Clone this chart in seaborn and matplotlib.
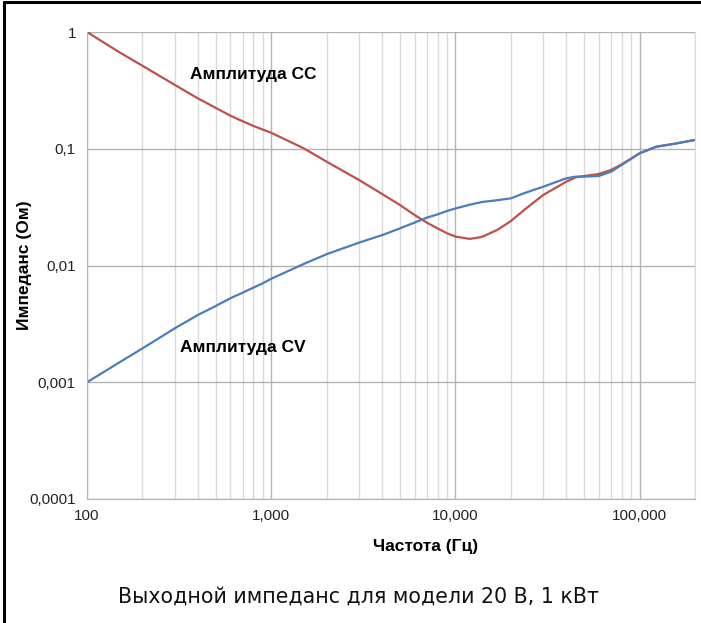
import numpy as np
import pandas as pd
import seaborn as sns
import matplotlib.pyplot as plt
from matplotlib.ticker import FixedLocator, LogLocator, NullFormatter
from matplotlib.lines import Line2D

# Frequency points (Hz)
freq = [100, 150, 200, 300, 400, 500, 600, 700, 800, 900, 1000, 1500, 2000,
        3000, 4000, 5000, 6000, 7000, 8000, 9000, 10000, 12000, 14000, 17000,
        20000, 24000, 30000, 40000, 45000, 50000, 60000, 70000, 80000, 90000,
        100000, 123000, 158000, 200000]

# Output impedance magnitude in constant-current mode (Ohm)
cc_amp = [1.0, 0.67, 0.514, 0.352, 0.27, 0.224, 0.192, 0.172, 0.157, 0.146,
          0.137, 0.101, 0.0775, 0.054, 0.041, 0.033, 0.0271, 0.0233, 0.0208,
          0.0189, 0.0177, 0.0169, 0.0176, 0.0203, 0.024, 0.0305, 0.0402,
          0.0522, 0.0569, 0.0584, 0.0608, 0.0658, 0.0736, 0.0822, 0.0914,
          0.104, 0.111, 0.119]

# Output impedance magnitude in constant-voltage mode (Ohm)
cv_amp = [0.001, 0.00148, 0.00195, 0.0029, 0.00377, 0.0045, 0.00524, 0.00585,
          0.00646, 0.00704, 0.0077, 0.0103, 0.0125, 0.0157, 0.0182, 0.0208,
          0.0233, 0.0257, 0.0274, 0.0293, 0.0308, 0.0332, 0.035, 0.0363,
          0.0376, 0.042, 0.0473, 0.0558, 0.0577, 0.0577, 0.0584, 0.0636,
          0.0727, 0.0822, 0.0914, 0.104, 0.111, 0.119]

series_names = ["Амплитуда CC", "Амплитуда CV"]
y_ticks = [0.0001, 0.001, 0.01, 0.1, 1]
y_tick_labels = ["0,0001", "0,001", "0,01", "0,1", "1"]
x_ticks = [100, 1000, 10000, 100000]
x_tick_labels = ["100", "1,000", "10,000", "100,000"]

df = pd.DataFrame({
    "freq": freq * 2,
    "amp": cc_amp + cv_amp,
    "series": [series_names[0]] * len(freq) + [series_names[1]] * len(freq),
})

sns.set_style("white")
plt.rcParams["font.family"] = ["Liberation Sans", "DejaVu Sans"]

W, H = 701, 623
fig = plt.figure(figsize=(W / 100, H / 100), dpi=100)
ax = fig.add_axes([87 / W, 1 - 499 / H, (695 - 87) / W, (499 - 32) / H])

ax.set_xscale("log")
ax.set_yscale("log")
ax.set_xlim(100, 200000)
ax.set_ylim(0.0001, 1)

# grid: light minor lines, darker decade lines
ax.xaxis.set_minor_locator(LogLocator(base=10, subs=np.arange(2, 10)))
ax.xaxis.set_minor_formatter(NullFormatter())
ax.yaxis.set_minor_locator(plt.NullLocator())
ax.grid(True, which="minor", axis="x", color="#d9d9d9", linewidth=1.0)
ax.grid(True, which="major", axis="both", color="#b3b3b3", linewidth=1.0)
ax.set_axisbelow(True)

sns.lineplot(data=df, x="freq", y="amp", hue="series",
             palette={series_names[0]: "#c0504d", series_names[1]: "#4a7ebb"},
             linewidth=1.6, ax=ax, legend=False, sort=False)

ax.xaxis.set_major_locator(FixedLocator(x_ticks))
ax.set_xticklabels(x_tick_labels)
ax.yaxis.set_major_locator(FixedLocator(y_ticks))
ax.set_yticklabels(y_tick_labels)
ax.tick_params(axis="both", which="both", length=0, labelsize=11,
               labelcolor="#222222")
ax.tick_params(axis="x", pad=7)
ax.tick_params(axis="y", pad=8)

ax.spines["top"].set_visible(False)
ax.spines["left"].set_color("#b3b3b3")
ax.spines["bottom"].set_color("#b3b3b3")
ax.spines["right"].set_color("#d9d9d9")

ax.set_xlabel("Частота (Гц)", fontsize=12.5, fontweight="bold", va="center",
              color="black")
ax.set_ylabel("Импеданс (Ом)", fontsize=12.5, fontweight="bold", va="center",
              color="black")
ax.xaxis.set_label_coords((426 - 87) / 608, (499 - 547) / 467)
ax.yaxis.set_label_coords((25 - 87) / 608, (499 - 265) / 467)

fig.text(190 / W, 1 - 75 / H, series_names[0], fontsize=12.5,
         fontweight="bold", ha="left", va="center", color="black")
fig.text(180 / W, 1 - 348 / H, series_names[1], fontsize=12.5,
         fontweight="bold", ha="left", va="center", color="black")

fig.text(358 / W, 1 - 597 / H, "Выходной импеданс для модели 20 В, 1 кВт",
         fontsize=14.8, family="DejaVu Sans", ha="center", va="center",
         color="#111111")

# frame lines along the top and left edges
fig.add_artist(Line2D([4 / W, 4 / W], [0, 1 - 2 / H], color="black",
                      linewidth=2.2, transform=fig.transFigure))
fig.add_artist(Line2D([4 / W, 1], [1 - 2 / H, 1 - 2 / H], color="black",
                      linewidth=2.2, transform=fig.transFigure))

fig.savefig("out.png", dpi=100)
